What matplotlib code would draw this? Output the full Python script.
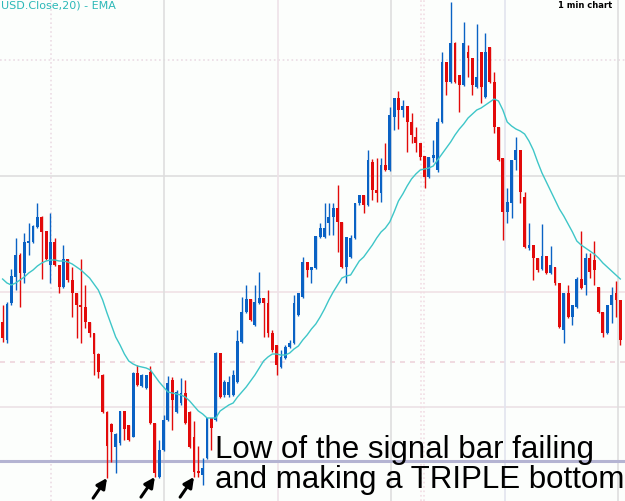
import numpy as np
import matplotlib
matplotlib.use("Agg")
import matplotlib.pyplot as plt

# candle data (units: pixels below the top of the price range)
highs = [305, 302, 269, 238, 253, 233, 223, 225, 203, 216, 231, 213, 238, 265, 245, 259, 267, 293, 259, 285,
         322, 333, 353, 374, 411, 423, 433, 411, 411, 425, 372, 365, 374, 375, 366, 423, 440, 415, 376, 377,
         390, 378, 380, 411, 421, 446, 458, 418, 418, 352, 353, 380, 376, 370, 330, 297, 285, 299, 285, 272,
         298, 290, 330, 345, 350, 345, 340, 295, 293, 257, 262, 267, 236, 223, 203, 203, 203, 185, 222, 237,
         235, 203, 195, 195, 150, 159, 158, 158, 143, 107, 98, 91, 100, 106, 113, 127, 143, 156, 157, 140,
         118, 52, 62, 2, 42, 75, 22, 45, 58, 24, 52, 33, 47, 72, 127, 158, 188, 160, 137, 150,
         192, 223, 245, 258, 224, 256, 246, 267, 283, 293, 285, 305, 277, 231, 253, 253, 241, 287, 312, 305,
         287, 281, 300]
opens = [322, 340, 303, 277, 255, 273, 243, 242, 227, 217, 231, 265, 242, 265, 287, 259, 280, 293, 305, 307,
         322, 333, 354, 375, 412, 424, 447, 443, 411, 425, 437, 373, 386, 388, 372, 423, 477, 450, 420, 380,
         412, 403, 393, 412, 437, 471, 475, 458, 418, 420, 353, 395, 395, 395, 382, 342, 312, 299, 325, 303,
         298, 303, 333, 345, 367, 358, 347, 343, 315, 297, 262, 270, 268, 237, 237, 223, 217, 208, 222, 267,
         257, 238, 203, 195, 205, 162, 190, 193, 165, 170, 117, 98, 110, 106, 122, 137, 143, 156, 177, 158,
         170, 122, 62, 82, 43, 75, 85, 52, 58, 87, 52, 97, 47, 82, 127, 158, 212, 203, 160, 150,
         197, 248, 245, 258, 269, 256, 273, 267, 283, 330, 293, 317, 307, 279, 285, 258, 260, 287, 312, 333,
         305, 293, 300]
closes = [338, 304, 276, 255, 273, 242, 241, 226, 217, 232, 259, 242, 265, 287, 259, 280, 293, 305, 307, 322,
          333, 354, 372, 412, 446, 432, 434, 411, 429, 440, 373, 385, 375, 375, 423, 473, 450, 420, 383, 400,
          392, 393, 423, 447, 472, 473, 468, 418, 428, 353, 397, 382, 382, 375, 341, 312, 299, 320, 302, 298,
          303, 333, 350, 365, 357, 347, 343, 303, 293, 262, 270, 267, 236, 228, 228, 217, 208, 222, 267, 237,
          238, 203, 195, 205, 160, 190, 193, 165, 170, 115, 98, 110, 106, 122, 135, 143, 157, 177, 157, 155,
          122, 62, 82, 43, 82, 85, 43, 58, 85, 77, 87, 52, 82, 127, 160, 212, 202, 160, 150, 192,
          247, 245, 258, 270, 256, 273, 265, 283, 327, 293, 317, 305, 279, 288, 258, 272, 270, 312, 333, 305,
          295, 300, 340]
lows = [342, 343, 305, 290, 307, 283, 255, 243, 228, 279, 260, 283, 266, 293, 288, 282, 317, 338, 343, 328,
        337, 375, 378, 413, 478, 462, 473, 445, 440, 441, 437, 386, 387, 389, 424, 477, 478, 451, 421, 430,
        413, 405, 424, 448, 477, 477, 485, 459, 450, 421, 398, 397, 397, 396, 383, 343, 313, 321, 326, 304,
        337, 337, 352, 375, 368, 359, 348, 344, 316, 298, 277, 283, 269, 238, 238, 235, 235, 252, 268, 283,
        258, 239, 205, 213, 206, 200, 202, 202, 171, 171, 130, 129, 117, 152, 143, 152, 160, 188, 178, 162,
        172, 123, 95, 83, 83, 112, 86, 77, 95, 88, 103, 98, 83, 133, 161, 240, 223, 218, 170, 203,
        248, 250, 280, 272, 270, 274, 274, 285, 328, 343, 318, 325, 308, 289, 295, 278, 285, 313, 337, 334,
        323, 317, 345]
ema20 = [279, 283, 285, 283, 280, 277, 273, 270, 266, 263, 261, 260, 260, 261, 261, 262, 264, 267, 270, 274,
         278, 284, 290, 300, 313, 325, 337, 345, 354, 361, 364, 366, 367, 368, 370, 376, 382, 387, 392, 393,
         394, 395, 397, 401, 406, 411, 414, 418, 418, 418, 411, 408, 405, 403, 397, 392, 387, 381, 375, 368,
         361, 357, 354, 354, 355, 355, 353, 349, 346, 340, 335, 329, 324, 317, 309, 300, 292, 285, 278, 276,
         275, 268, 261, 257, 251, 245, 238, 232, 228, 222, 212, 201, 194, 186, 179, 174, 170, 169, 168, 166,
         160, 154, 148, 142, 135, 129, 124, 118, 114, 110, 108, 105, 102, 99, 101, 110, 122, 126, 129, 131,
         134, 141, 150, 162, 173, 182, 191, 200, 209, 216, 224, 232, 241, 245, 248, 251, 254, 258, 263, 267,
         271, 275, 279]

support_level = 461          # low of the signal bar
marked_lows = [24, 35, 44]   # the three bottoms
note_lines = ['Low of the signal bar failing', 'and making a TRIPLE bottom']

W, H = 625, 501
PX = 4.35      # pixels per candle
X0 = 2.6       # pixel x of the first candle

fig = plt.figure(figsize=(W / 100, H / 100), dpi=100)
fig.patch.set_facecolor('#fcfefc')
ax = fig.add_axes([0, 0, 1, 1])
ax.set_facecolor('#fcfefc')
ax.set_xlim(-X0 / PX, (W - X0) / PX)
ax.set_ylim(H, 0)
ax.axis('off')

# grid
for y, c, ls in [(60, '#eadce4', ':'), (176, '#dedede', '-'), (292, '#f0e2e6', '-'),
                 (362, '#eed4dc', (0, (3, 3))), (407, '#ece2e6', '-')]:
    ax.axhline(y, color=c, lw=1.2, ls=ls, zorder=0)
for xp, c, ls in [(51, '#ecdce4', ':'), (164, '#dedede', '-'), (278, '#eee2e8', '-'),
                  (391, '#dedede', '-'), (505, '#e2e4ee', '-'), (618, '#dedede', '-'),
                  (421, '#f2dde4', ':'), (424, '#f2dde4', ':')]:
    ax.axvline((xp - X0) / PX, color=c, lw=1.2, ls=ls, zorder=0)

ax.axhline(support_level, color='#b4b4d2', lw=2.2, zorder=1)

idx = np.arange(len(closes))
o = np.array(opens)
c = np.array(closes)
up = c < o
colors = np.where(up, '#0a62c4', '#e20a0a')

ax.vlines(idx, highs, lows, colors=colors, lw=1.0, zorder=2)
body_lo = np.minimum(o, c)
body_h = np.maximum(np.abs(o - c), 1.2)
ax.bar(idx, body_h, bottom=body_lo, width=0.66, color=colors, lw=0, zorder=3)

ax.plot(idx, ema20, color='#3ec6c8', lw=1.0, zorder=4)

# arrows to the three lows
for i in marked_lows:
    ax.annotate('', xy=(i, lows[i]), xytext=(-10, -14.5), textcoords='offset points',
                arrowprops=dict(arrowstyle='-|>,head_length=0.6,head_width=0.3',
                                color='black', lw=2.2, shrinkA=0, shrinkB=0), zorder=6)

for line, base in zip(note_lines, [458, 488]):
    ax.text((215 - X0) / PX, base, line, fontsize=22.5, family='Liberation Sans',
            color='black', va='baseline', zorder=7)

fig.text(1 / W, 1 - 9 / H, 'USD.Close,20) - EMA', fontsize=8, color='#2cb8b8', va='baseline')
fig.text(612 / W, 1 - 8 / H, '1 min chart', fontsize=6, fontweight='bold', color='black',
         va='baseline', ha='right')

fig.savefig('out.png', dpi=100, facecolor=fig.get_facecolor())
